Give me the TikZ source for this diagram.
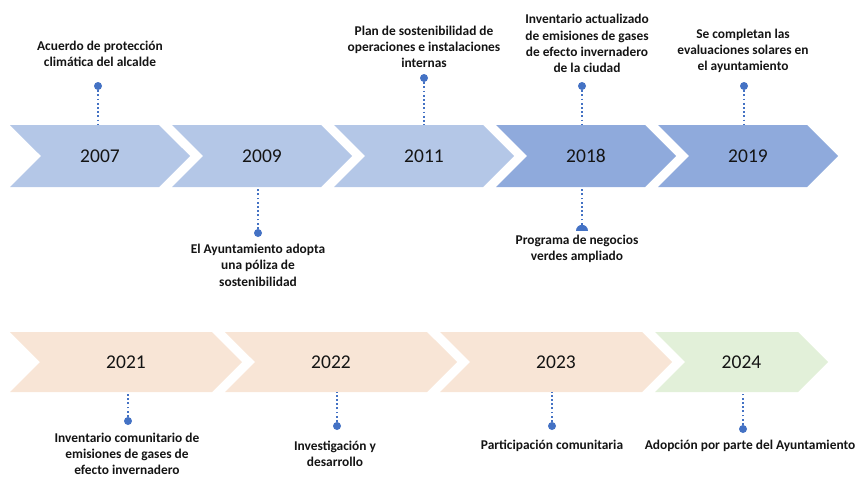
\documentclass[tikz,border=0pt]{standalone}
\usepackage{fontspec}
\setmainfont{Carlito}
\usetikzlibrary{shapes.symbols,shapes.geometric}
\definecolor{paleblue}{HTML}{B4C7E7}
\definecolor{midblue}{HTML}{8FAADC}
\definecolor{peach}{HTML}{F8E5D6}
\definecolor{palegreen}{HTML}{E2F0D9}
\definecolor{pinblue}{HTML}{4472C4}
\definecolor{textdark}{HTML}{141414}

\begin{document}
\begin{tikzpicture}[x=1pt, y=-1pt,
    yearbox/.style={signal, signal from=west, signal to=east, signal pointer angle=90,
        inner sep=0, minimum height=62pt, text=textdark, font=\fontsize{19.5}{22}\selectfont},
    stem/.style={pinblue, line width=1.8pt, dash pattern=on 1.8pt off 2.4pt},
    pin/.style={circle, fill=pinblue, inner sep=0, minimum size=8pt},
    note/.style={align=center, inner sep=0, text=textdark, font=\bfseries\fontsize{13.4}{16.3}\selectfont}]

\useasboundingbox (0,0) rectangle (857,479);

% Upper row
\node[yearbox, fill=paleblue, minimum width=180pt] (y2007) at (100,156) {2007};
\node[yearbox, fill=paleblue, minimum width=180pt] (y2009) at (262,156) {2009};
\node[yearbox, fill=paleblue, minimum width=180pt] (y2011) at (424,156) {2011};
\node[yearbox, fill=midblue, minimum width=180pt] (y2018) at (586,156) {2018};
\node[yearbox, fill=midblue, minimum width=180pt] (y2019) at (748,156) {2019};

% Lower row
\node[yearbox, fill=peach, minimum width=232pt, minimum height=60pt] (y2021) at (126,362) {2021};
\node[yearbox, fill=peach, minimum width=232pt, minimum height=60pt] (y2022) at (341,362) {\hspace*{-20pt}2022};
\node[yearbox, fill=peach, minimum width=232pt, minimum height=60pt] (y2023) at (556,362) {2023};
\node[yearbox, fill=palegreen, minimum width=173pt, minimum height=60pt] (y2024) at (741.5,362) {2024};

% ---------- 2007 ----------
\node[note, anchor=south] (n2007) at (100,67) {Acuerdo de protección\\climática del alcalde};
\node[pin] (p2007) at (98,86) {};
\draw[stem] (p2007) -- (p2007 |- y2007.north);

% ---------- 2009 ----------
\node[note, anchor=north] (n2009) at (258,244) {El Ayuntamiento adopta\\una póliza de\\sostenibilidad};
\node[pin] (p2009) at (258,233) {};
\draw[stem] (p2009) -- (p2009 |- y2009.south);

% ---------- 2011 ----------
\node[note, anchor=south] (n2011) at (424,68) {Plan de sostenibilidad de\\operaciones e instalaciones\\internas};
\node[pin] (p2011) at (424,78) {};
\draw[stem] (p2011) -- (p2011 |- y2011.north);

% ---------- 2018 ----------
\node[note, anchor=south] (n2018) at (587,73) {Inventario actualizado\\de emisiones de gases\\de efecto invernadero\\de la ciudad};
\node[pin] (p2018) at (582,86) {};
\draw[stem] (p2018) -- (p2018 |- y2018.north);
\node[note, anchor=north] (m2018) at (577,235) {Programa de negocios\\verdes ampliado};
\node[semicircle, fill=pinblue, inner sep=0, minimum width=12pt, minimum height=6pt, anchor=south] (q2018) at (582,231) {};
\draw[stem] (q2018.north) -- (q2018 |- y2018.south);

% ---------- 2019 ----------
\node[note, anchor=south] (n2019) at (743,73) {Se completan las\\evaluaciones solares en\\el ayuntamiento};
\node[pin] (p2019) at (744,86) {};
\draw[stem] (p2019) -- (p2019 |- y2019.north);

% ---------- 2021 ----------
\node[note, anchor=north, font=\bfseries\fontsize{13.4}{15.8}\selectfont] (n2021) at (127,433) {Inventario comunitario de\\emisiones de gases de\\efecto invernadero};
\node[pin] (p2021) at (128,421) {};
\draw[stem] (p2021) -- (p2021 |- y2021.south);

% ---------- 2022 ----------
\node[note, anchor=north] (n2022) at (335,441) {Investigación y\\desarrollo};
\node[pin] (p2022) at (337,426) {};
\draw[stem] (p2022) -- (p2022 |- y2022.south);

% ---------- 2023 ----------
\node[note, anchor=north] (n2023) at (552,440) {Participación comunitaria};
\node[pin] (p2023) at (552,426) {};
\draw[stem] (p2023) -- (p2023 |- y2023.south);

% ---------- 2024 ----------
\node[note, anchor=north] (n2024) at (750,440) {Adopción por parte del Ayuntamiento};
\node[pin] (p2024) at (743,429) {};
\draw[stem] (p2024) -- (p2024 |- y2024.south);

\end{tikzpicture}
\end{document}
